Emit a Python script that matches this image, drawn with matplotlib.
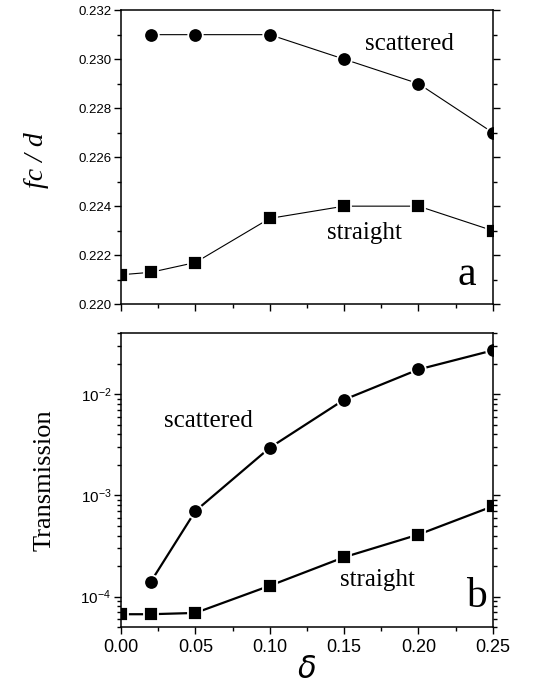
import numpy as np
import matplotlib
matplotlib.use("Agg")
import matplotlib.pyplot as plt
from matplotlib.ticker import MultipleLocator, LogLocator, NullFormatter

plt.rcParams['font.family'] = ['Liberation Sans', 'DejaVu Sans']
plt.rcParams['mathtext.fontset'] = 'custom'
plt.rcParams['mathtext.rm'] = 'Liberation Sans'

# data
delta_sc = [0.02, 0.05, 0.10, 0.15, 0.20, 0.25]
delta_st = [0.0, 0.02, 0.05, 0.10, 0.15, 0.20, 0.25]
fc_scattered = [0.231, 0.231, 0.231, 0.230, 0.229, 0.227]
fc_straight = [0.2212, 0.2213, 0.2217, 0.2235, 0.2240, 0.2240, 0.2230]
tr_scattered = [1.4e-4, 7.0e-4, 2.95e-3, 8.8e-3, 1.75e-2, 2.7e-2]
tr_straight = [6.7e-5, 6.7e-5, 6.9e-5, 1.28e-4, 2.45e-4, 4.1e-4, 7.8e-4]

fig = plt.figure(figsize=(5.38, 6.96), dpi=100)
ax1 = fig.add_axes([0.225, 0.563, 0.691, 0.4224])
ax2 = fig.add_axes([0.225, 0.099, 0.691, 0.4224])

serif = 'Liberation Serif'

def style(ax):
    for s in ax.spines.values():
        s.set_linewidth(1.1)
    ax.tick_params(which='both', direction='out', right=True, top=False, width=1.0)
    ax.tick_params(which='major', length=5)
    ax.tick_params(which='minor', length=3)
    ax.xaxis.set_major_locator(MultipleLocator(0.05))
    ax.xaxis.set_minor_locator(MultipleLocator(0.025))
    ax.set_xlim(0, 0.25)

# panel a
ax1.plot(delta_sc, fc_scattered, color='black', lw=0.8, marker='o', ms=10.5,
         mfc='black', mec='white', mew=1.3)
ax1.plot(delta_st, fc_straight, color='black', lw=0.8, marker='s', ms=9.5,
         mfc='black', mec='white', mew=1.3)
style(ax1)
ax1.set_ylim(0.220, 0.232)
ax1.yaxis.set_major_locator(MultipleLocator(0.002))
ax1.yaxis.set_minor_locator(MultipleLocator(0.001))
ax1.yaxis.set_major_formatter(matplotlib.ticker.FormatStrFormatter('%.3f'))
ax1.tick_params(axis='x', which='both', labelbottom=False)
ax1.tick_params(axis='y', labelsize=9.5, pad=2)
ax1.set_ylabel('fc / d', family=serif, style='italic', fontsize=20)
ax1.yaxis.set_label_coords(-0.194, 0.49)
ax1.text(0.194, 0.2306, 'scattered', family=serif, fontsize=18, ha='center', va='center')
ax1.text(0.164, 0.2229, 'straight', family=serif, fontsize=18, ha='center', va='center')
ax1.text(0.2325, 0.2212, 'a', family=serif, fontsize=30, ha='center', va='center')

# panel b
ax2.plot(delta_sc, tr_scattered, color='black', lw=1.6, marker='o', ms=10.5,
         mfc='black', mec='white', mew=1.3)
ax2.plot(delta_st, tr_straight, color='black', lw=1.6, marker='s', ms=9.5,
         mfc='black', mec='white', mew=1.3)
ax2.set_yscale('log')
style(ax2)
ax2.set_ylim(5e-5, 4e-2)
ax2.yaxis.set_major_locator(LogLocator(base=10, numticks=10))
ax2.yaxis.set_minor_locator(LogLocator(base=10, subs=np.arange(2, 10), numticks=20))
ax2.yaxis.set_minor_formatter(NullFormatter())
ax2.tick_params(axis='y', labelsize=11, pad=2)
ax2.tick_params(axis='x', labelsize=13)
ax2.xaxis.set_major_formatter(matplotlib.ticker.FormatStrFormatter('%.2f'))
ax2.set_ylabel('Transmission', family=serif, fontsize=19)
ax2.yaxis.set_label_coords(-0.175, 0.5)
ax2.set_xlabel(r'$\delta$', fontsize=22)
ax2.xaxis.set_label_coords(0.5, -0.095)
ax2.text(0.0585, 5.4e-3, 'scattered', family=serif, fontsize=18, ha='center', va='center')
ax2.text(0.1727, 1.47e-4, 'straight', family=serif, fontsize=18, ha='center', va='center')
ax2.text(0.239, 1.0e-4, 'b', family=serif, fontsize=30, ha='center', va='center')

fig.savefig('out.png', dpi=100)
